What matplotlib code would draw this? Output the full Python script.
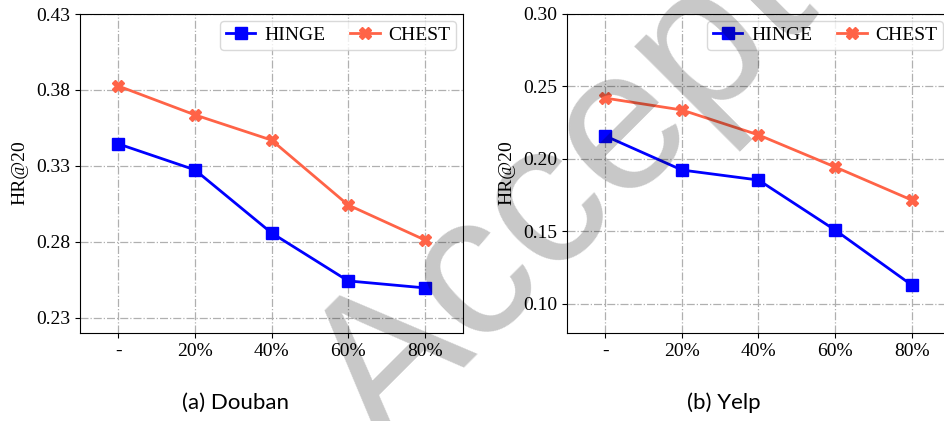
import matplotlib
matplotlib.use("Agg")
import matplotlib.pyplot as plt

categories = ["-", "20%", "40%", "60%", "80%"]

douban_hinge = [0.3445, 0.3274, 0.2859, 0.2543, 0.2497]
douban_chest = [0.3826, 0.3636, 0.3470, 0.3043, 0.2813]
yelp_hinge = [0.2159, 0.1924, 0.1855, 0.1510, 0.1131]
yelp_chest = [0.2420, 0.2338, 0.2166, 0.1945, 0.1717]

douban_yticks = [0.23, 0.28, 0.33, 0.38, 0.43]
yelp_yticks = [0.10, 0.15, 0.20, 0.25, 0.30]

W, H = 945, 421
fig = plt.figure(figsize=(W / 100, H / 100), dpi=100)

serif = ["Liberation Serif", "DejaVu Serif"]


def panel(rect, hinge, chest, yticks, ylim, fmt, caption, cap_x, ylabel_x):
    ax = fig.add_axes(rect)
    x = list(range(len(categories)))
    ax.plot(x, hinge, color="#0000FF", marker="s", markersize=8, lw=2, label="HINGE", zorder=3)
    ax.plot(x, chest, color="#FF6347", marker="X", markersize=8, lw=2, label="CHEST", zorder=3)
    ax.set_xlim(-0.5, 4.5)
    ax.set_ylim(*ylim)
    ax.set_xticks(x)
    ax.set_xticklabels(categories, fontfamily=serif, fontsize=14)
    ax.set_yticks(yticks)
    ax.set_yticklabels([fmt.format(v) for v in yticks], fontfamily=serif, fontsize=14)
    ax.grid(True, linestyle="-.", color="#b0b0b0", lw=0.9)
    ax.set_axisbelow(True)
    leg = ax.legend(loc="upper right", ncol=2, prop={"family": serif, "size": 14},
                    columnspacing=1.3, handlelength=1.5, borderaxespad=0.35,
                    handletextpad=0.45, borderpad=0.3)
    leg.get_frame().set_edgecolor("#d0d0d0")
    fig.text(ylabel_x / W, 1 - 173 / H, "HR@20", rotation=90, ha="center", va="center",
             fontfamily=serif, fontsize=14)
    fig.text(cap_x / W, 1 - 403 / H, caption, ha="center", va="center",
             fontfamily=["Lato", "DejaVu Sans"], fontsize=16)
    return ax


ax_h = 319 / H
ax_b = 1 - 333 / H
panel([80 / W, ax_b, 383 / W, ax_h], douban_hinge, douban_chest, douban_yticks,
      (0.22, 0.43), "{:.2f}", "(a) Douban", 236, 20)
panel([567 / W, ax_b, 383 / W, ax_h], yelp_hinge, yelp_chest, yelp_yticks,
      (0.08, 0.30), "{:.2f}", "(b) Yelp", 724, 507)

# diagonal watermark across the figure
fig.text(383 / W, 1 - 449 / H, "Accepted", rotation=45, rotation_mode="anchor",
         ha="left", va="baseline", fontsize=146, color="black", alpha=0.22,
         fontfamily=["Liberation Sans", "DejaVu Sans"], zorder=10)

fig.savefig("out.png", dpi=100)
